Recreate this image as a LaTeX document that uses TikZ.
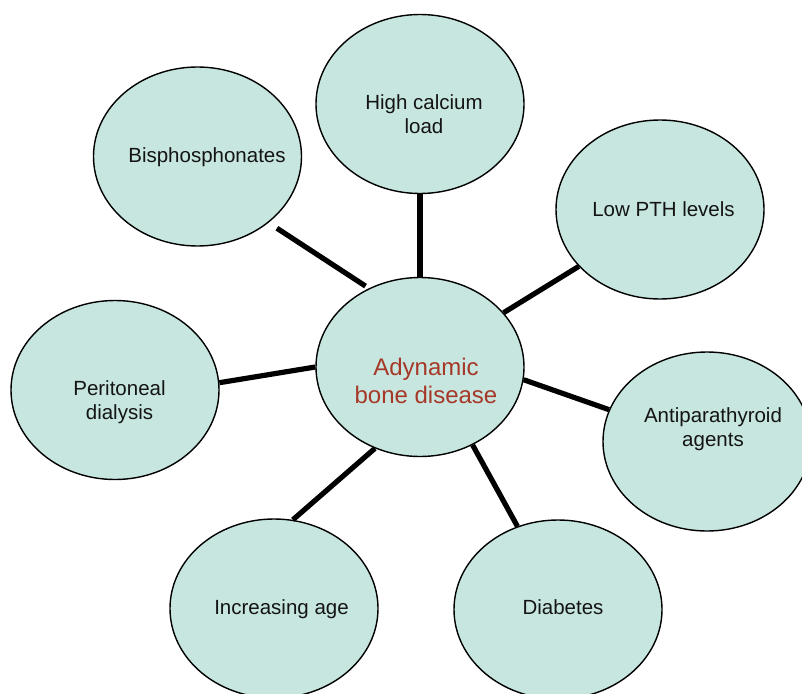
\documentclass[tikz,border=0pt]{standalone}
\usepackage{fontspec}
\setmainfont{Liberation Sans}
\usetikzlibrary{shapes.geometric}
\definecolor{bubble}{RGB}{199,230,224}
\definecolor{maintext}{RGB}{166,56,40}
\definecolor{labeltext}{RGB}{20,20,20}
\tikzset{
  bubble/.style={ellipse, draw=black, line width=1.4pt, fill=bubble, inner sep=0pt,
    minimum width=208pt, minimum height=179pt},
  lbl/.style={inner sep=0pt, align=center, text=labeltext, font=\fontsize{20.5}{24}\selectfont},
  mainlbl/.style={inner sep=0pt, align=center, text=maintext, font=\fontsize{24}{28}\selectfont},
  link/.style={line width=5.2pt, black}
}
\begin{document}
\begin{tikzpicture}[x=1pt, y=-1pt]
\clip (0,0) rectangle (802,693);
\fill[white] (0,0) rectangle (802,693);
% ellipses
\node[bubble] (hc)   at (420,104)   {};
\node[bubble] (bis)  at (197.5,156.5) {};
\node[bubble] (pth)  at (660,209.5) {};
\node[bubble] (per)  at (115,390)   {};
\node[bubble] (main) at (420,367)   {};
\node[bubble] (anti) at (707,441.5) {};
\node[bubble] (age)  at (274,608.5) {};
\node[bubble] (dia)  at (558,609.5) {};
% connectors
\draw[link, shorten <=10pt, shorten >=4pt] (bis.-43.2) -- (main.123);
\draw[link] (hc.-90) -- (main.90);
\draw[link] (main.33.5) -- (pth.-145.9);
\draw[link] (per.4.9) -- (main.180);
\draw[link] (main.-7.1) -- (anti.162.3);
\draw[link] (main.-119.7) -- (age.78.75);
\draw[link] (main.-56.3) -- (dia.116.4);
% labels
\node[lbl] (thc)   at (424,114)   {High calcium\\load};
\node[lbl] (tbis)  at (207,157)   {Bisphosphonates};
\node[lbl] (tpth)  at (663.5,208.7) {Low PTH levels};
\node[lbl] (tper)  at (119.5,402) {Peritoneal\\dialysis};
\node[lbl] (tanti) at (713,429)   {Antiparathyroid\\agents};
\node[mainlbl] (tmain) at (426,381) {Adynamic\\bone disease};
\node[lbl] (tage)  at (281.5,609) {Increasing age};
\node[lbl] (tdia)  at (563,606.7) {Diabetes};
\end{tikzpicture}
\end{document}
